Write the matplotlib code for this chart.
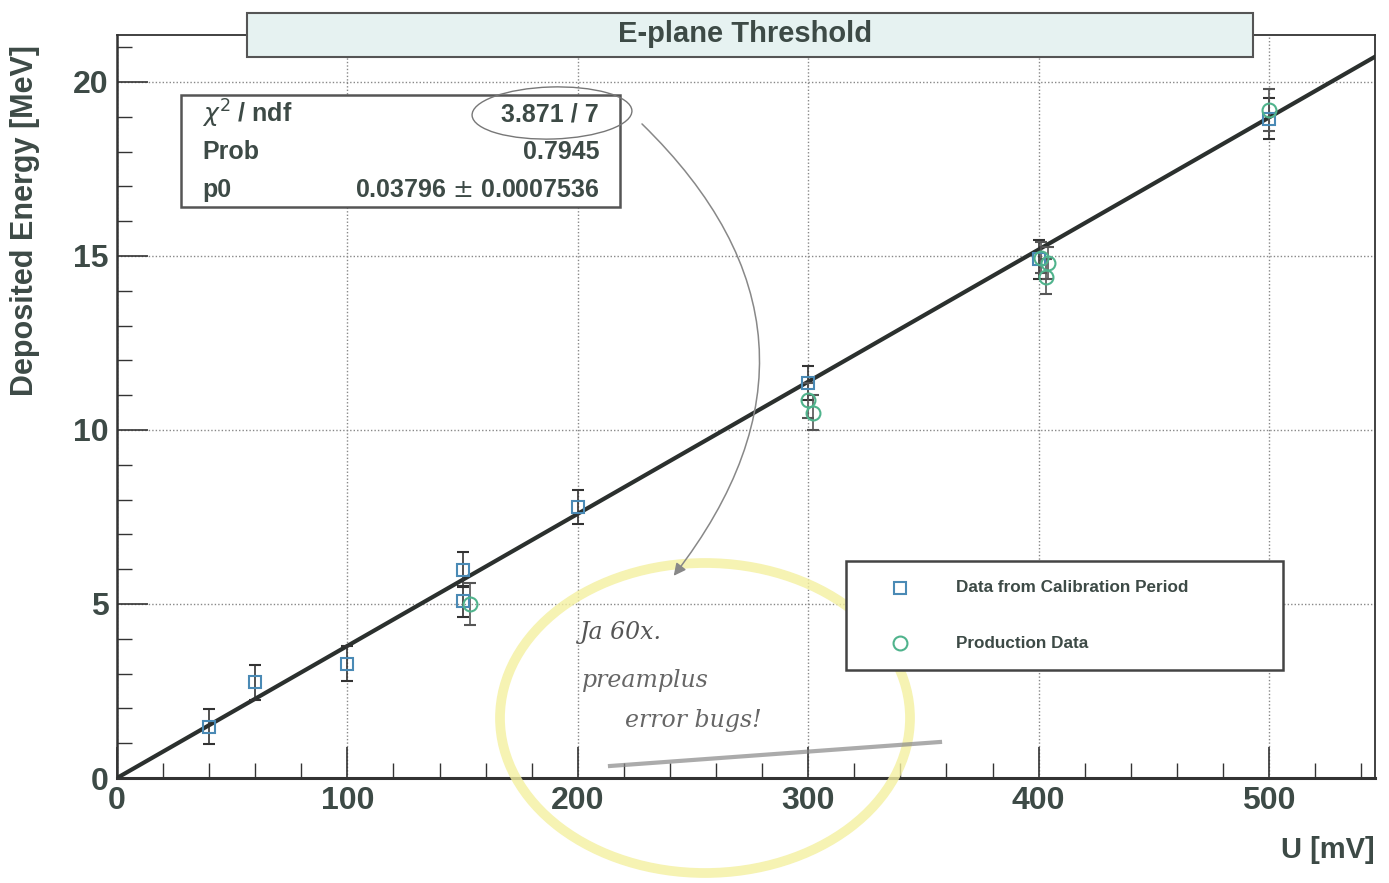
import numpy as np
import matplotlib
matplotlib.use("Agg")
import matplotlib.pyplot as plt
import matplotlib.patches as mpatches
from matplotlib.ticker import MultipleLocator

# ── Data ─────────────────────────────────────────────────────────────────────
calib_x = [40, 60, 100, 150, 150, 200, 300, 400, 500]
calib_y = [1.47, 2.75, 3.28, 5.98, 5.08, 7.79, 11.35, 14.9, 18.95]
calib_err = [0.5, 0.5, 0.5, 0.5, 0.45, 0.5, 0.5, 0.55, 0.6]

prod_x = [153, 300, 302, 401, 404, 403, 500]
prod_y = [5.0, 10.85, 10.5, 14.95, 14.8, 14.4, 19.2]
prod_err = [0.6, 0.5, 0.5, 0.45, 0.45, 0.5, 0.6]

fit_p0 = 0.03796
stats_labels = ["$\\chi^{2}$ / ndf", "Prob", "p0"]
stats_values = ["3.871 / 7", "0.7945", "0.03796 $\\pm$ 0.0007536"]

W, H = 1389, 883
TXT = "#3d4a46"
BLUE = "#4a8ab5"
GREEN = "#4fb38c"
FONT = "Liberation Sans"


def px(x, y):
    """pixel (from top-left) -> figure fraction"""
    return x / W, 1 - y / H


fig = plt.figure(figsize=(W / 100, H / 100), dpi=100)
ax = fig.add_axes([117 / W, 1 - 778 / H, (1375 - 117) / W, (778 - 35) / H])

# grid + ticks like ROOT
ax.set_xlim(0, 546)
ax.set_ylim(0, 21.35)
ax.xaxis.set_major_locator(MultipleLocator(100))
ax.xaxis.set_minor_locator(MultipleLocator(20))
ax.yaxis.set_major_locator(MultipleLocator(5))
ax.yaxis.set_minor_locator(MultipleLocator(1))
ax.tick_params(which="major", direction="in", length=22, width=1.2, color="#333333",
               labelsize=23, labelcolor=TXT, pad=6)
ax.tick_params(which="minor", direction="in", length=11, width=1.0, color="#333333")
for lab in ax.get_xticklabels() + ax.get_yticklabels():
    lab.set_fontfamily(FONT)
    lab.set_fontweight("bold")
ax.grid(True, which="major", linestyle=(0, (1, 1.5)), color="#888888", linewidth=1.0)
for s in ax.spines.values():
    s.set_color("#333333")
    s.set_linewidth(1.3)
ax.spines["bottom"].set_linewidth(2.2)
ax.spines["left"].set_linewidth(1.8)

# fit line
xf = np.linspace(0, 546, 50)
ax.plot(xf, fit_p0 * xf, color="#2b302e", linewidth=3, zorder=3)

# data
ax.errorbar(calib_x, calib_y, yerr=calib_err, fmt="s", mfc="none", mec=BLUE,
            mew=1.5, ms=9, ecolor="#333333", elinewidth=1.2, capsize=4, zorder=4)
ax.errorbar(prod_x, prod_y, yerr=prod_err, fmt="o", mfc="none", mec=GREEN,
            mew=1.5, ms=10, ecolor="#555555", elinewidth=1.2, capsize=4, zorder=4)

ax.set_ylabel("Deposited Energy [MeV]", fontsize=22, fontweight="bold",
              color=TXT, fontfamily=FONT)
ax.yaxis.set_label_coords(-0.061, 0.75)
fig.text(*px(1375, 850), "U [mV]", ha="right", va="center", fontsize=21,
         fontweight="bold", color=TXT, fontfamily=FONT)

# title box
x0, y0 = px(247, 57)
x1, y1 = px(1253, 13)
fig.patches.append(mpatches.Rectangle((x0, y0), x1 - x0, y1 - y0, transform=fig.transFigure,
                                      facecolor="#e6f2f1", edgecolor="#555555", lw=1.5, zorder=5))
fig.text(*px(745, 34), "E-plane Threshold", ha="center", va="center", fontsize=21,
         fontweight="bold", color=TXT, fontfamily=FONT, zorder=6)

# stats box
x0, y0 = px(181, 207)
x1, y1 = px(620, 95)
fig.patches.append(mpatches.Rectangle((x0, y0), x1 - x0, y1 - y0, transform=fig.transFigure,
                                      facecolor="white", edgecolor="#555555", lw=1.8, zorder=5))
for i, (lab, val) in enumerate(zip(stats_labels, stats_values)):
    yy = 114 + i * 38
    fig.text(*px(202, yy), lab, ha="left", va="center", fontsize=18, fontweight="bold",
             color=TXT, fontfamily=FONT, zorder=6)
    fig.text(*px(599, yy), val, ha="right", va="center", fontsize=18, fontweight="bold",
             color=TXT, fontfamily=FONT, zorder=6)

# legend box
x0, y0 = px(846, 670)
x1, y1 = px(1283, 561)
fig.patches.append(mpatches.Rectangle((x0, y0), x1 - x0, y1 - y0, transform=fig.transFigure,
                                      facecolor="white", edgecolor="#444444", lw=1.8, zorder=5))
fig.lines.append(plt.Line2D([900 / W], [1 - 588 / H], transform=fig.transFigure, marker="s",
                            mfc="none", mec=BLUE, mew=1.5, ms=9, zorder=6))
fig.lines.append(plt.Line2D([900 / W], [1 - 643 / H], transform=fig.transFigure, marker="o",
                            mfc="none", mec=GREEN, mew=1.5, ms=10, zorder=6))
fig.text(*px(956, 588), "Data from Calibration Period", ha="left", va="center", fontsize=12.3,
         fontweight="bold", color=TXT, fontfamily=FONT, zorder=6)
fig.text(*px(956, 643), "Production Data", ha="left", va="center", fontsize=12.3,
         fontweight="bold", color=TXT, fontfamily=FONT, zorder=6)

# handwritten notes (approximation)
cx, cy = px(705, 718)
fig.patches.append(mpatches.Ellipse((cx, cy), 410 / W, 310 / H, transform=fig.transFigure,
                                    facecolor="none", edgecolor="#f4f0a0", lw=7, alpha=0.8, zorder=2))
cx, cy = px(552, 113)
fig.patches.append(mpatches.Ellipse((cx, cy), 160 / W, 52 / H, angle=3, transform=fig.transFigure,
                                    facecolor="none", edgecolor="#777777", lw=1.0, zorder=7))
fig.patches.append(mpatches.FancyArrowPatch(px(640, 122), px(672, 578), transform=fig.transFigure,
                                            connectionstyle="arc3,rad=-0.45", arrowstyle="-|>",
                                            mutation_scale=18, color="#888888", lw=1.1, zorder=7))
fig.text(*px(580, 632), "Ja 60x.", fontsize=17, style="italic", color="#555555",
         fontfamily="DejaVu Serif", va="center", zorder=7)
fig.text(*px(582, 680), "preamplus", fontsize=17, style="italic", color="#666666",
         fontfamily="DejaVu Serif", va="center", zorder=7)
fig.text(*px(625, 720), "error bugs!", fontsize=17, style="italic", color="#666666",
         fontfamily="DejaVu Serif", va="center", zorder=7)
fig.lines.append(plt.Line2D([610 / W, 940 / W], [1 - 766 / H, 1 - 742 / H],
                            transform=fig.transFigure, color="#888888", lw=3, alpha=0.7, zorder=7))

fig.savefig("out.png", dpi=100)
